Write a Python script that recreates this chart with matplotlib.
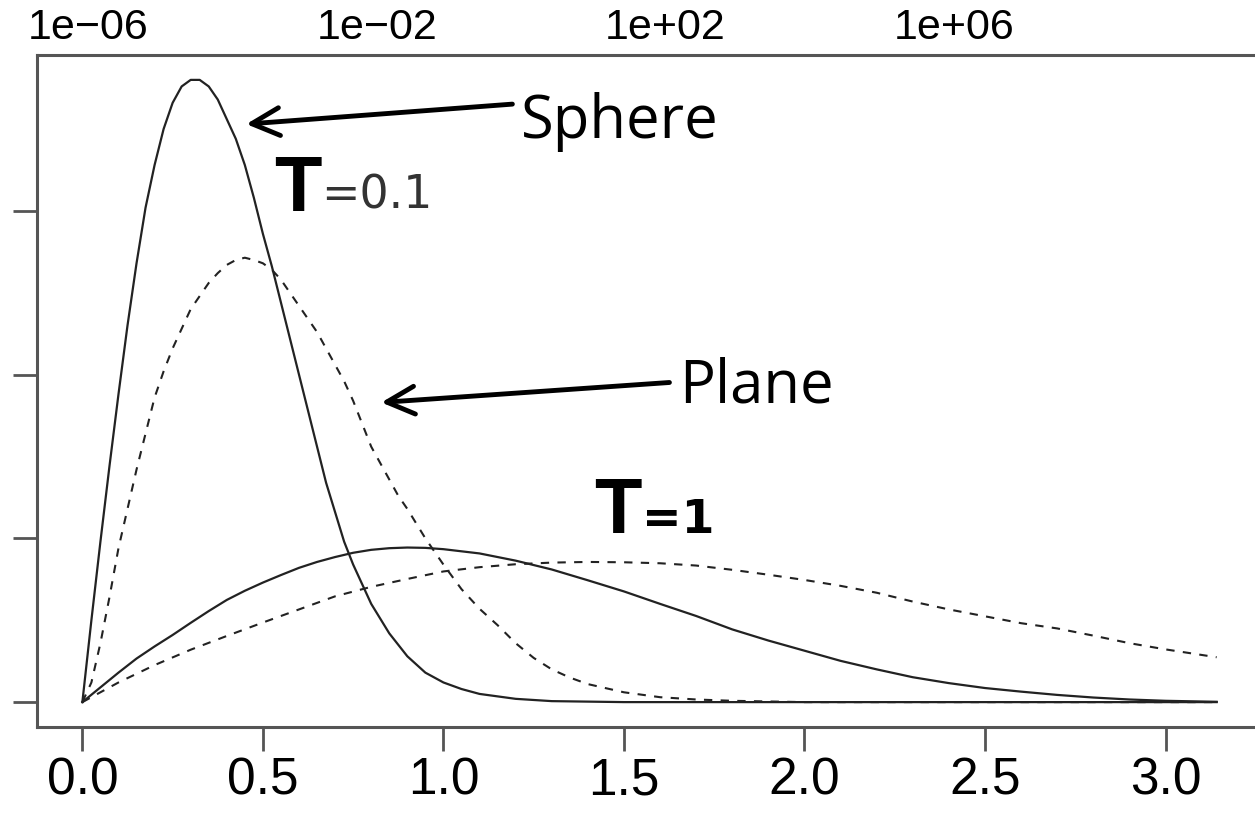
import numpy as np
import matplotlib
matplotlib.use("Agg")
import matplotlib.pyplot as plt
from matplotlib.ticker import NullLocator

# Values (x = angle, y = density)
sphere_t01_x = [0.0, 0.025, 0.05, 0.075, 0.10, 0.125, 0.15, 0.175, 0.20, 0.225, 0.25, 0.275,
                0.30, 0.325, 0.35, 0.375, 0.40, 0.425, 0.45, 0.475, 0.50, 0.525, 0.55,
                0.575, 0.60, 0.625, 0.65, 0.675, 0.70, 0.725, 0.75, 0.775, 0.80, 0.85,
                0.90, 0.95, 1.00, 1.05, 1.10, 1.20, 1.30, 1.50, 2.00, 2.50, 3.1416]
sphere_t01_y = [0.0, 0.25, 0.49, 0.72, 0.94, 1.15, 1.34, 1.51, 1.64, 1.75, 1.83, 1.88,
                1.90, 1.90, 1.88, 1.84, 1.78, 1.72, 1.64, 1.54, 1.43, 1.33, 1.22,
                1.11, 1.00, 0.89, 0.78, 0.67, 0.58, 0.49, 0.42, 0.36, 0.30, 0.21,
                0.14, 0.09, 0.06, 0.04, 0.025, 0.01, 0.003, 0.0, 0.0, 0.0, 0.0]

plane_t01_x = [0.0, 0.025, 0.05, 0.075, 0.10, 0.125, 0.15, 0.175, 0.20, 0.225, 0.25, 0.275,
               0.30, 0.325, 0.35, 0.375, 0.40, 0.425, 0.45, 0.475, 0.50, 0.525, 0.55,
               0.575, 0.60, 0.625, 0.65, 0.675, 0.70, 0.725, 0.75, 0.775, 0.80, 0.825,
               0.85, 0.875, 0.90, 0.95, 1.00, 1.05, 1.10, 1.15, 1.20, 1.25, 1.30, 1.35,
               1.40, 1.50, 1.60, 1.70, 1.80, 2.00, 2.50, 3.1416]
plane_t01_y = [0.0, 0.06, 0.18, 0.32, 0.47, 0.59, 0.71, 0.82, 0.93, 1.01, 1.08, 1.14,
               1.20, 1.24, 1.28, 1.31, 1.335, 1.35, 1.357, 1.35, 1.34, 1.32, 1.29,
               1.25, 1.21, 1.17, 1.13, 1.08, 1.03, 0.98, 0.92, 0.85, 0.78, 0.73,
               0.68, 0.63, 0.59, 0.50, 0.42, 0.345, 0.285, 0.235, 0.18, 0.135, 0.10, 0.075,
               0.055, 0.03, 0.015, 0.008, 0.004, 0.0, 0.0, 0.0]

sphere_t1_x = [0.0, 0.05, 0.10, 0.15, 0.20, 0.25, 0.30, 0.35, 0.40, 0.45, 0.50, 0.55, 0.60,
               0.65, 0.70, 0.75, 0.80, 0.85, 0.90, 0.95, 1.00, 1.10, 1.20, 1.30, 1.40,
               1.50, 1.60, 1.70, 1.80, 1.90, 2.00, 2.10, 2.20, 2.30, 2.40, 2.50, 2.60,
               2.70, 2.80, 2.90, 3.00, 3.1416]
sphere_t1_y = [0.0, 0.045, 0.09, 0.133, 0.17, 0.205, 0.242, 0.278, 0.312, 0.340, 0.365,
               0.388, 0.410, 0.428, 0.443, 0.456, 0.465, 0.470, 0.472, 0.471, 0.467,
               0.454, 0.432, 0.405, 0.372, 0.338, 0.300, 0.263, 0.222, 0.188, 0.157,
               0.126, 0.100, 0.076, 0.058, 0.043, 0.032, 0.022, 0.014, 0.008, 0.004, 0.001]

plane_t1_x = [0.0, 0.1, 0.2, 0.3, 0.4, 0.5, 0.6, 0.7, 0.8, 0.9, 1.0, 1.1, 1.2, 1.3, 1.4,
              1.5, 1.6, 1.7, 1.8, 1.9, 2.0, 2.1, 2.2, 2.3, 2.4, 2.5, 2.6, 2.7, 2.8, 2.9,
              3.0, 3.1416]
plane_t1_y = [0.0, 0.06, 0.113, 0.16, 0.202, 0.243, 0.283, 0.323, 0.352, 0.376, 0.399,
              0.412, 0.421, 0.426, 0.428, 0.427, 0.424, 0.417, 0.404, 0.389, 0.373,
              0.355, 0.334, 0.307, 0.283, 0.262, 0.241, 0.225, 0.203, 0.180, 0.161, 0.137]

x_ticks = [0.0, 0.5, 1.0, 1.5, 2.0, 2.5, 3.0]
y_ticks = [0.0, 0.5, 1.0, 1.5]
top_ticks = [1e-6, 1e-2, 1e2, 1e6]
top_labels = ["1e\u221206", "1e\u221202", "1e+02", "1e+06"]

num_font = ["Liberation Sans", "DejaVu Sans"]
label_font = ["Open Sans", "DejaVu Sans"]
axis_col = "#555555"
line_col = "#222222"

W, H = 1255, 818
fig = plt.figure(figsize=(W / 100, H / 100), dpi=100)
ax = fig.add_axes([37 / W, 1 - 727 / H, (1262 - 37) / W, (727 - 55) / H])

ax.plot(sphere_t01_x, sphere_t01_y, color=line_col, lw=1.6)
ax.plot(plane_t01_x, plane_t01_y, color=line_col, lw=1.5, ls=(0, (4, 4)))
ax.plot(sphere_t1_x, sphere_t1_y, color=line_col, lw=1.6)
ax.plot(plane_t1_x, plane_t1_y, color=line_col, lw=1.5, ls=(0, (4, 4)))

ax.set_xlim(-0.04 * np.pi, 1.04 * np.pi)
ax.set_ylim(-0.076, 1.976)
ax.set_xticks(x_ticks)
ax.set_xticklabels([f"{v:.1f}" for v in x_ticks], family=num_font, fontsize=37)
ax.set_yticks(y_ticks)
ax.tick_params(axis="y", labelleft=False)
ax.tick_params(direction="out", length=17, width=2, color=axis_col, pad=4)
for s in ax.spines.values():
    s.set_color(axis_col)
    s.set_linewidth(2.2)

# top log axis (labels only)
ax2 = ax.twiny()
ax2.set_xscale("log")
ax2.set_xlim(10 ** -6.706, 10 ** 10.26)
ax2.set_xticks(top_ticks)
ax2.set_xticklabels(top_labels, family=num_font, fontsize=31)
ax2.xaxis.set_minor_locator(NullLocator())
ax2.tick_params(axis="x", length=0, pad=5)
for s in ax2.spines.values():
    s.set_visible(False)

# annotations
arrow = dict(arrowstyle="->", mutation_scale=50, lw=3.5, color="black",
             shrinkA=0, shrinkB=0)
ax.annotate("", xy=(0.454, 1.765), xytext=(1.191, 1.826), arrowprops=arrow)
ax.annotate("", xy=(0.828, 0.915), xytext=(1.626, 0.976), arrowprops=arrow)
ax.text(1.215, 1.723, "Sphere", family=label_font, fontsize=43, va="baseline", ha="left")
ax.text(1.652, 0.915, "Plane", family=label_font, fontsize=43, va="baseline", ha="left")

ax.text(0.530, 1.500, "T", family="Liberation Sans", fontsize=56, fontweight="bold",
        va="baseline", ha="left")
ax.text(0.662, 1.506, "=0.1", family="DejaVu Sans", fontsize=33, color="#333333",
        va="baseline", ha="left")
ax.text(1.418, 0.515, "T", family="Liberation Sans", fontsize=56, fontweight="bold",
        va="baseline", ha="left")
ax.text(1.550, 0.515, "=1", family="DejaVu Sans", fontsize=34, fontweight="bold",
        va="baseline", ha="left")

fig.savefig("out.png", dpi=100)
